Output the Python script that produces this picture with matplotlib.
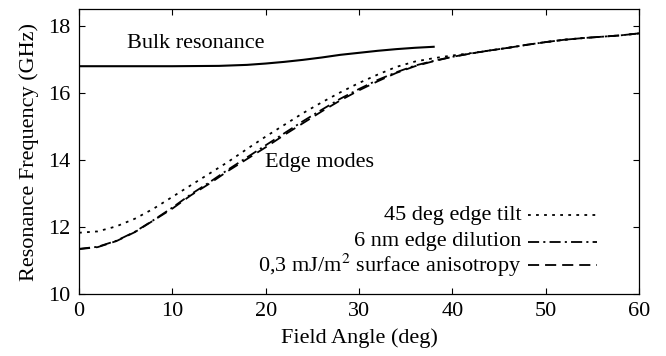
import matplotlib
matplotlib.use("Agg")
import matplotlib.pyplot as plt
import numpy as np

plt.rcParams['font.family'] = ['Liberation Serif', 'DejaVu Serif']
plt.rcParams['mathtext.fontset'] = 'stix'
plt.rcParams['lines.scale_dashes'] = False

# bulk mode, only up to ~38 deg
bulk_angle = [0, 5, 10, 15, 18, 20, 22, 24, 26, 28, 30, 32, 34, 36, 38]
bulk_freq = [16.80, 16.80, 16.80, 16.81, 16.84, 16.88, 16.93, 16.99, 17.06, 17.14, 17.20, 17.26, 17.31, 17.35, 17.38]

# edge modes
edge_angle = [0, 2, 4, 6, 8, 10, 12, 14, 16, 18, 20, 22, 24, 26, 28, 30, 32, 34, 36, 38,
              40, 42, 44, 46, 48, 50, 52, 54, 56, 58, 60]
tilt_freq = [11.83, 11.87, 12.02, 12.25, 12.55, 12.90, 13.25, 13.60, 13.95, 14.33, 14.70,
             15.05, 15.40, 15.72, 16.02, 16.30, 16.55, 16.78, 16.94, 17.04, 17.12,
             17.19, 17.27, 17.35, 17.44, 17.52, 17.59, 17.64, 17.68, 17.72, 17.78]
dilution_freq = [11.35, 11.41, 11.59, 11.86, 12.21, 12.58, 12.98, 13.34, 13.72, 14.08, 14.44,
                 14.80, 15.16, 15.50, 15.83, 16.12, 16.39, 16.62, 16.82, 16.96, 17.08,
                 17.18, 17.27, 17.35, 17.44, 17.52, 17.59, 17.64, 17.68, 17.72, 17.78]
aniso_freq = [11.34, 11.40, 11.58, 11.85, 12.20, 12.55, 12.95, 13.30, 13.68, 14.03, 14.38,
              14.75, 15.10, 15.45, 15.78, 16.08, 16.35, 16.60, 16.80, 16.95, 17.08,
              17.18, 17.27, 17.35, 17.44, 17.52, 17.59, 17.64, 17.68, 17.72, 17.78]

labels = ["45 deg edge tilt", "6 nm edge dilution", "0,3 mJ/m$^2$ surface anisotropy"]
dot_style = (0, (2.0, 3.8))
dashdot_style = (0, (8.0, 3.0, 1.5, 3.0))
dash_style = (0, (8.0, 4.3))

fig = plt.figure(figsize=(6.66, 3.56), dpi=100)
ax = fig.add_axes([0.1186, 0.174, 0.8409, 0.800])

ax.plot(bulk_angle, bulk_freq, color='black', lw=1.5)
ax.plot(edge_angle, tilt_freq, color='black', lw=1.3, linestyle=dot_style)
ax.plot(edge_angle, dilution_freq, color='black', lw=1.3, linestyle=dashdot_style)
ax.plot(edge_angle, aniso_freq, color='black', lw=1.3, linestyle=dash_style)

# key, right-aligned like gnuplot
styles = [dot_style, dashdot_style, dash_style]
rows = [0.277, 0.183, 0.102]
for lab, ls, yy in zip(labels, styles, rows):
    ax.text(0.790, yy, lab, transform=ax.transAxes, ha='right', va='center', fontsize=16)
    ax.plot([0.802, 0.925], [yy, yy], transform=ax.transAxes, color='black', lw=1.3, linestyle=ls)

ax.text(5.1, 17.47, "Bulk resonance", fontsize=16, va='center')
ax.text(19.9, 13.92, "Edge modes", fontsize=16, va='center')

ax.set_xlim(0, 60)
ax.set_ylim(10, 18.5)
ax.set_xticks(np.arange(0, 61, 10))
ax.set_yticks(np.arange(10, 19, 2))
ax.tick_params(direction='in', top=True, right=True, length=4, labelsize=16, pad=6)
ax.set_xlabel("Field Angle (deg)", fontsize=16, labelpad=5)
ax.set_ylabel("Resonance Frequency (GHz)", fontsize=16, labelpad=7)
for s in ax.spines.values():
    s.set_linewidth(0.9)

plt.savefig("out.png", dpi=100)
